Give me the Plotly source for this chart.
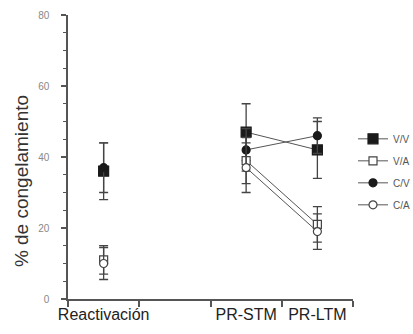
import plotly.graph_objects as go

# category positions on a 0..4 linear axis (empty slot between Reactivación and PR-STM)
cat_labels = ["Reactivación", "PR-STM", "PR-LTM"]
cat_pos = [0.5, 2.5, 3.5]
x_pts = [0.5, 1.5, 2.5, 3.5]  # 1.5 is a gap (no data)

groups = ["V/V", "V/A", "C/V", "C/A"]
vv = [36, None, 47, 42]
vv_err = [8, None, 8, 8]
va = [11, None, 39, 21]
va_err = [4, None, 6.5, 5]
cv = [37, None, 42, 46]
cv_err = [7, None, 6, 5]
ca = [10, None, 37, 19]
ca_err = [4.5, None, 7, 5]

series = [
    ("V/V", vv, vv_err, "square", 10, "#1a1a1a", "#1a1a1a"),
    ("V/A", va, va_err, "square", 8, "white", "#444444"),
    ("C/V", cv, cv_err, "circle", 8, "#1a1a1a", "#1a1a1a"),
    ("C/A", ca, ca_err, "circle", 8, "white", "#444444"),
]

fig = go.Figure()
for name, y, err, sym, size, fill, col in series:
    fig.add_trace(go.Scatter(
        x=x_pts, y=y, name=name, mode="lines+markers",
        connectgaps=False, legendgroup=name,
        line=dict(color="#555555", width=1),
        marker=dict(symbol=sym, size=size, color=fill,
                    line=dict(color=col, width=1.2)),
        error_y=dict(type="data", array=err, visible=True, color="#444444",
                     thickness=1.3, width=4.5),
    ))

fig.update_layout(
    width=413, height=334,
    margin=dict(l=68, r=60, t=15, b=35, autoexpand=False),
    plot_bgcolor="white", paper_bgcolor="white",
    font=dict(family="Arial, Liberation Sans, sans-serif", color="#333333"),
    showlegend=True,
    legend=dict(x=1.0, y=0.615, xanchor="left", yanchor="top",
                bgcolor="rgba(0,0,0,0)", font=dict(size=10, color="#555555"),
                itemwidth=30, traceorder="grouped", tracegroupgap=3),
    annotations=[dict(text="% de congelamiento", x=-0.165, xref="paper", y=0.415,
                      yref="paper", showarrow=False, textangle=-90,
                      xanchor="center", yanchor="middle",
                      font=dict(size=19, color="#333333"))],
)

fig.update_xaxes(
    range=[0, 4], tickvals=cat_pos, ticktext=cat_labels, ticks="",
    showgrid=False, zeroline=False, showline=True, linecolor="#555555", linewidth=1.5,
    tickfont=dict(size=16, color="#222222"),
    minor=dict(tickvals=[0, 1, 2, 3, 4], ticks="outside", ticklen=6,
               tickcolor="#555555", tickwidth=1.5, showgrid=False),
)
fig.update_yaxes(
    range=[0, 80], tickvals=[0, 20, 40, 60, 80], ticks="outside", ticklen=5,
    tickcolor="#555555", tickwidth=1.5,
    showgrid=False, zeroline=False, showline=True, linecolor="#555555", linewidth=1.5,
    tickfont=dict(size=10, color="#888888"), ticklabelstandoff=10,
    minor=dict(dtick=5, ticks="outside", ticklen=3, tickcolor="#555555",
               tickwidth=1.2, showgrid=False),
)

fig.write_html("out.html")
